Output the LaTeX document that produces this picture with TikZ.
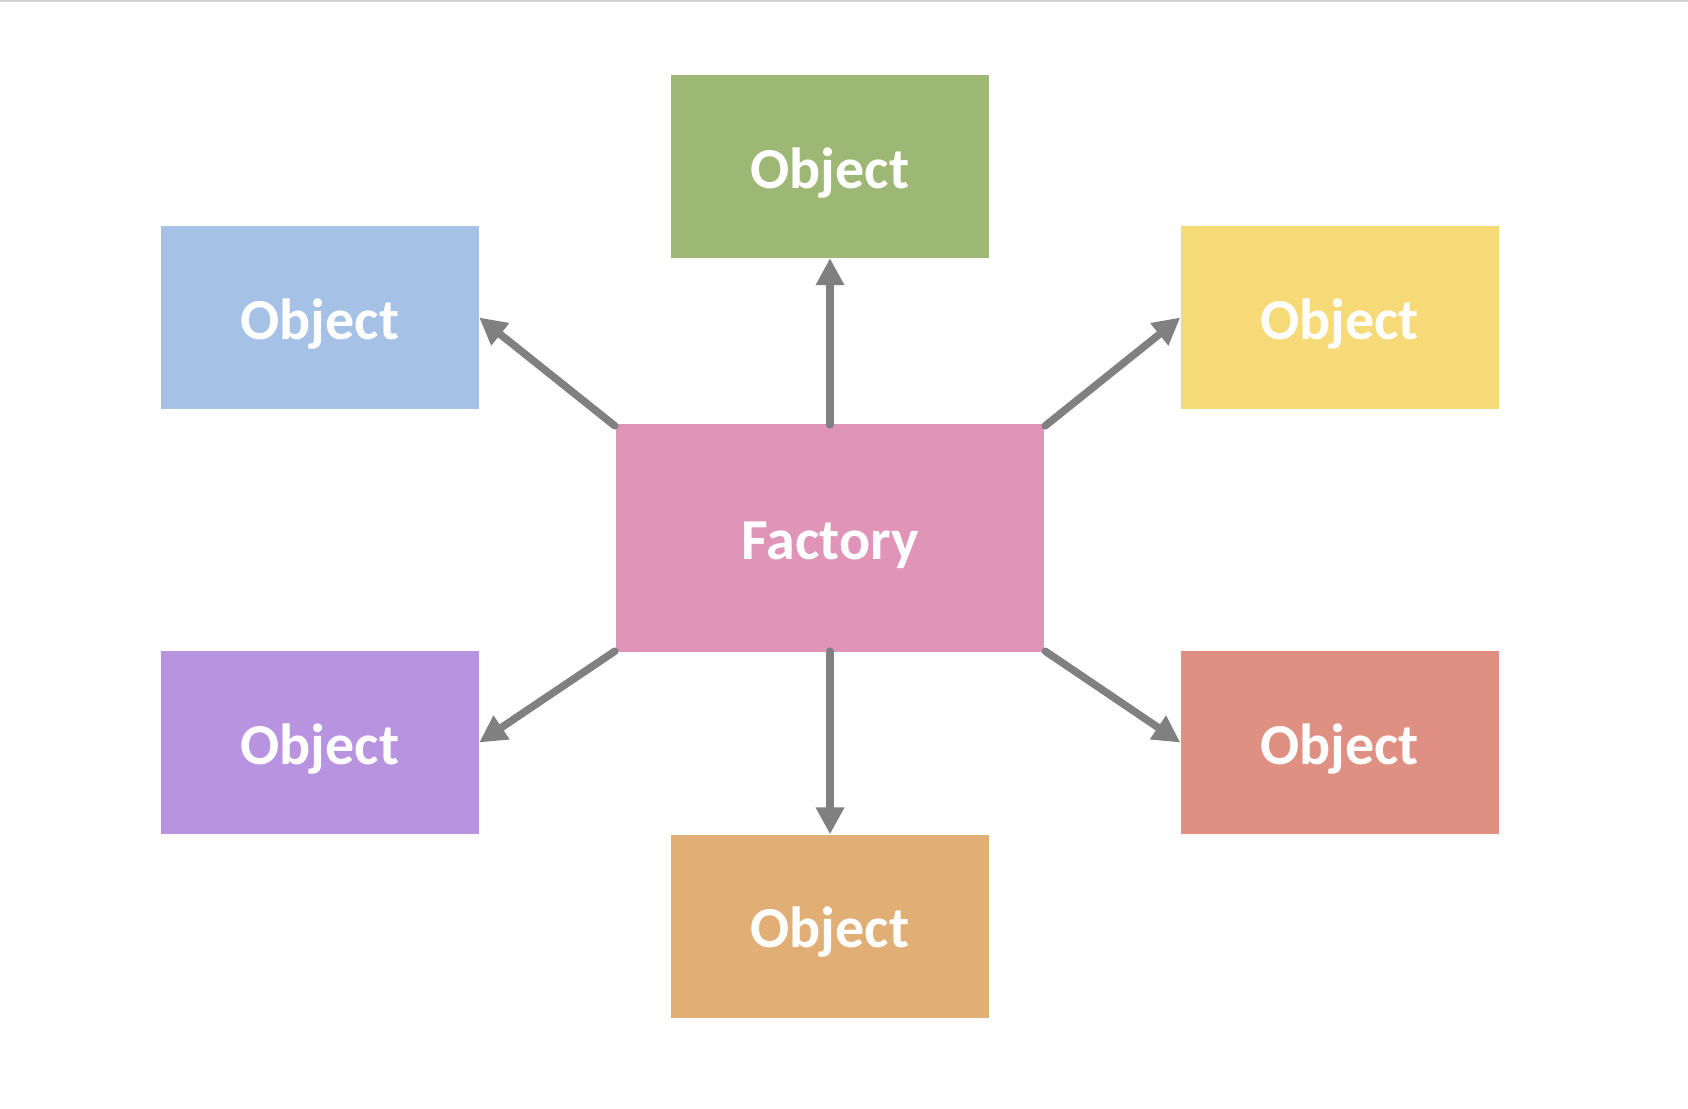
\documentclass[tikz,border=0pt]{standalone}
\usepackage{fontspec}
\setmainfont{Carlito}
\usetikzlibrary{arrows.meta}
\definecolor{cgreen}{HTML}{9DB774}
\definecolor{cblue}{HTML}{A5C1E5}
\definecolor{cyellow}{HTML}{F7DA78}
\definecolor{cpurple}{HTML}{B893E0}
\definecolor{cred}{HTML}{E09083}
\definecolor{corange}{HTML}{E1AF76}
\definecolor{cpink}{HTML}{E094B8}
\definecolor{carrow}{HTML}{808080}
\newcommand\boxlbl[1]{\raisebox{-21.5pt}[0pt][0pt]{#1}}
\tikzset{
  objbox/.style={fill=#1, draw=none, minimum width=318pt, minimum height=183pt, inner sep=0pt,
    text=white, font=\fontsize{58}{60}\selectfont\bfseries},
  conn/.style={draw=carrow, line width=7.5pt, line cap=round, -{Triangle[length=27pt,width=27pt]}},
}
\begin{document}
\begin{tikzpicture}[x=1pt,y=-1pt]
\useasboundingbox (0,0) rectangle (1688,1108);
\fill[white] (0,0) rectangle (1688,1108);
\fill[black!18] (0,0) rectangle (1688,2);
\node[objbox=cpink, minimum width=428pt, minimum height=228pt] (f) at (830,538) {\boxlbl{Factory}};
\node[objbox=cgreen] (t) at (830,166.5) {\boxlbl{Object}};
\node[objbox=corange] (b) at (830,926) {\boxlbl{Object}};
\node[objbox=cblue] (lt) at (320,317.5) {\boxlbl{Object}};
\node[objbox=cyellow] (rt) at (1339.5,317.5) {\boxlbl{Object}};
\node[objbox=cpurple] (lb) at (320,742.5) {\boxlbl{Object}};
\node[objbox=cred] (rb) at (1339.5,742.5) {\boxlbl{Object}};
\draw[conn] ([yshift=-1pt]f.north) -- (t.south);
\draw[conn] ([yshift=1pt]f.south) -- (b.north);
\draw[conn] ([xshift=-1pt,yshift=-2pt]f.north west) -- (lt.east);
\draw[conn] ([xshift=1pt,yshift=-2pt]f.north east) -- (rt.west);
\draw[conn] ([xshift=-1pt,yshift=1pt]f.south west) -- (lb.east);
\draw[conn] ([xshift=1pt,yshift=1pt]f.south east) -- (rb.west);
\end{tikzpicture}
\end{document}
